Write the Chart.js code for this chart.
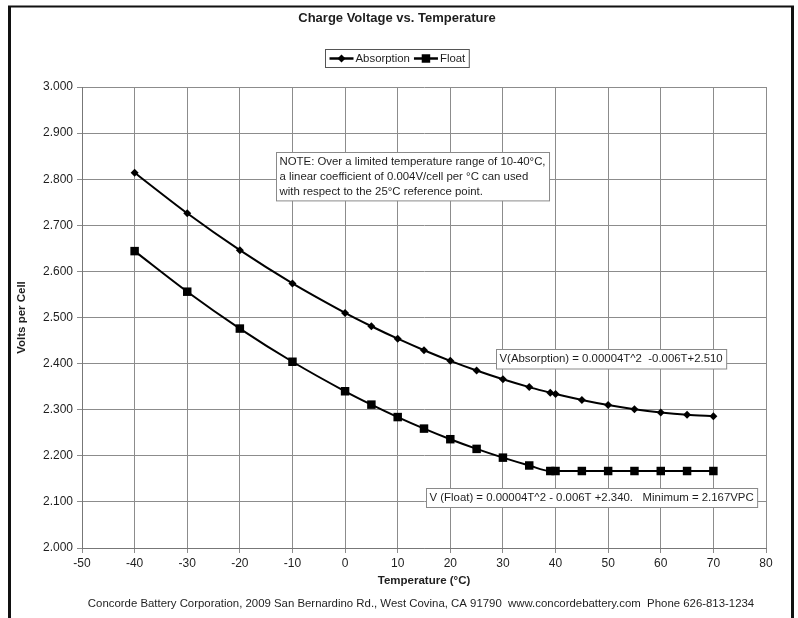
<!DOCTYPE html>
<html>
<head>
<meta charset="utf-8">
<title>Charge Voltage vs. Temperature</title>
<script src="https://cdn.jsdelivr.net/npm/chart.js@4"></script>
<style>
  html, body { margin: 0; padding: 0; background: #fff; }
  canvas { display: block; }
</style>
</head>
<body>
<canvas id="chart" width="798" height="618"></canvas>
<script>
// Charge voltage per cell at each temperature (°C)
const temperatures = [-40, -30, -20, -10, 0, 5, 10, 15, 20, 25, 30, 35, 39, 40, 45, 50, 55, 60, 65, 70];
const absorptionVolts = [2.814, 2.726, 2.646, 2.574, 2.510, 2.481, 2.454, 2.429, 2.406, 2.385,
                         2.366, 2.349, 2.337, 2.334, 2.321, 2.310, 2.301, 2.294, 2.289, 2.286];
const floatVolts = [2.644, 2.556, 2.476, 2.404, 2.340, 2.311, 2.284, 2.259, 2.236, 2.215,
                    2.196, 2.179, 2.167, 2.167, 2.167, 2.167, 2.167, 2.167, 2.167, 2.167];
const seriesNames = ['Absorption', 'Float'];

// Axis ranges and tick spacing
const xRange = [-50, 80];
const xStep = 10;
const yRange = [2.0, 3.0];
const yStep = 0.1;

// Text blocks placed on the plot, anchored at their top-left corner (°C, V)
const noteLines = [
  'NOTE: Over a limited temperature range of 10-40°C,',
  'a linear coefficient of 0.004V/cell per °C can used',
  'with respect to the 25°C reference point.'
];
const noteAnchor = [-13.1, 2.859];
const absorptionFormula = 'V(Absorption) = 0.00004T^2  -0.006T+2.510';
const absorptionAnchor = [28.7, 2.432];
const floatFormula = 'V (Float) = 0.00004T^2 - 0.006T +2.340.   Minimum = 2.167VPC';
const floatAnchor = [15.4, 2.130];
const footerText = 'Concorde Battery Corporation, 2009 San Bernardino Rd., West Covina, CA 91790  www.concordebattery.com  Phone 626-813-1234';

const FONT = "'Liberation Sans', Arial, Helvetica, sans-serif";
const TEXT = '#1e1e1e';
const GRID = '#8c8c8c';

const toPoints = (xs, ys) => xs.map((x, i) => ({ x, y: ys[i] }));

// Boxes, legend, footer and outer frame
const decorations = {
  id: 'decorations',
  afterLayout(chart) {
    // centre the title over the page rather than the padded layout width
    const t = chart.titleBlock;
    if (t) { t.left += 7; t.right += 7; }
  },
  afterDraw(chart) {
    const { ctx, scales } = chart;
    const xs = scales.x, ys = scales.y;
    ctx.save();

    // outer frame
    ctx.strokeStyle = '#111';
    ctx.lineWidth = 2;
    ctx.beginPath();
    ctx.moveTo(8, 6.5); ctx.lineTo(794, 6.5);
    ctx.stroke();
    ctx.lineWidth = 3;
    ctx.beginPath();
    ctx.moveTo(9.5, 6); ctx.lineTo(9.5, 618);
    ctx.moveTo(792.5, 6); ctx.lineTo(792.5, 618);
    ctx.stroke();

    // text boxes on the plot
    ctx.font = '11.4px ' + FONT;
    ctx.textBaseline = 'middle';
    ctx.textAlign = 'left';
    const drawBox = (lines, anchor, lineH) => {
      const left = Math.round(xs.getPixelForValue(anchor[0])) + 0.5;
      const top = Math.round(ys.getPixelForValue(anchor[1])) + 0.5;
      const w = Math.max(...lines.map(l => ctx.measureText(l).width)) + 7;
      const h = lines.length * lineH + 4;
      ctx.fillStyle = '#fff';
      ctx.fillRect(left, top, w, h);
      ctx.strokeStyle = '#8a8a8a';
      ctx.lineWidth = 1;
      ctx.strokeRect(left, top, w, h);
      ctx.fillStyle = TEXT;
      lines.forEach((l, i) => ctx.fillText(l, left + 3, top + 2 + lineH * (i + 0.5)));
    };
    drawBox(noteLines, noteAnchor, 14.8);
    drawBox([absorptionFormula], absorptionAnchor, 15.5);
    drawBox([floatFormula], floatAnchor, 15);

    // legend
    const items = chart.data.datasets.map(ds => ({
      text: ds.label, style: ds.pointStyle, radius: ds.pointRadius
    }));
    const iconW = 24, gap = 2, itemGap = 4, pad = 4;
    const widths = items.map(it => iconW + gap + ctx.measureText(it.text).width);
    const boxW = widths.reduce((a, b) => a + b, 0) + itemGap * (items.length - 1) + pad * 2;
    const boxL = Math.round(397 - boxW / 2) + 0.5;
    const boxT = 49.5, boxH = 18;
    ctx.fillStyle = '#fff';
    ctx.fillRect(boxL, boxT, boxW, boxH);
    ctx.strokeStyle = '#555';
    ctx.lineWidth = 1;
    ctx.strokeRect(boxL, boxT, boxW, boxH);
    let cx = boxL + pad;
    const cy = boxT + boxH / 2;
    items.forEach((it, i) => {
      ctx.strokeStyle = '#000';
      ctx.lineWidth = 2.5;
      ctx.beginPath();
      ctx.moveTo(cx, cy); ctx.lineTo(cx + iconW, cy);
      ctx.stroke();
      ctx.fillStyle = '#000';
      Chart.helpers.drawPoint(ctx, {
        pointStyle: it.style, radius: it.radius, rotation: 0, borderWidth: 0
      }, cx + iconW / 2, cy);
      ctx.fillStyle = TEXT;
      ctx.fillText(it.text, cx + iconW + gap, cy + 0.5);
      cx += widths[i] + itemGap;
    });

    // footer
    ctx.font = '11.4px ' + FONT;
    ctx.textAlign = 'center';
    ctx.fillStyle = TEXT;
    ctx.fillText(footerText, 421, 604);
    ctx.restore();
  }
};

new Chart(document.getElementById('chart'), {
  type: 'line',
  data: {
    datasets: [
      {
        label: seriesNames[0],
        data: toPoints(temperatures, absorptionVolts),
        borderColor: '#000',
        backgroundColor: '#000',
        borderWidth: 2,
        pointStyle: 'rectRot',
        pointRadius: 4,
        pointBorderWidth: 0,
        tension: 0.25
      },
      {
        label: seriesNames[1],
        data: toPoints(temperatures, floatVolts),
        borderColor: '#000',
        backgroundColor: '#000',
        borderWidth: 2,
        pointStyle: 'rect',
        pointRadius: 6,
        pointBorderWidth: 0,
        cubicInterpolationMode: 'monotone'
      }
    ]
  },
  options: {
    responsive: false,
    animation: false,
    events: [],
    layout: { padding: { top: 0, left: 14, right: 32, bottom: 0 } },
    plugins: {
      legend: { display: false },
      tooltip: { enabled: false },
      title: {
        display: true,
        text: 'Charge Voltage vs. Temperature',
        color: TEXT,
        font: { family: FONT, size: 13, weight: 'bold' },
        padding: { top: 10.2, bottom: 61.2 }
      }
    },
    scales: {
      x: {
        type: 'linear',
        min: xRange[0], max: xRange[1],
        ticks: {
          stepSize: xStep,
          color: TEXT,
          font: { family: FONT, size: 12 },
          padding: 3,
          maxRotation: 0
        },
        grid: { color: GRID, lineWidth: 1, tickLength: 5, tickColor: GRID },
        border: { color: '#777', width: 1 },
        title: {
          display: true,
          text: 'Temperature (°C)',
          color: TEXT,
          font: { family: FONT, size: 11.5, weight: 'bold' },
          padding: { top: 4, bottom: 30 }
        },
        afterFit(scale) { scale.height = 70; }
      },
      y: {
        type: 'linear',
        min: yRange[0], max: yRange[1],
        ticks: {
          stepSize: yStep,
          color: TEXT,
          font: { family: FONT, size: 12 },
          padding: 4,
          callback: v => Number(v).toFixed(3)
        },
        grid: { color: GRID, lineWidth: 1, tickLength: 5, tickColor: GRID },
        border: { color: '#777', width: 1 },
        title: {
          display: true,
          text: 'Volts per Cell',
          color: TEXT,
          font: { family: FONT, size: 11.5, weight: 'bold' },
          padding: { top: 1, bottom: 0 }
        },
        afterFit(scale) { scale.width = 68; }
      }
    }
  },
  plugins: [decorations]
});
</script>
</body>
</html>
